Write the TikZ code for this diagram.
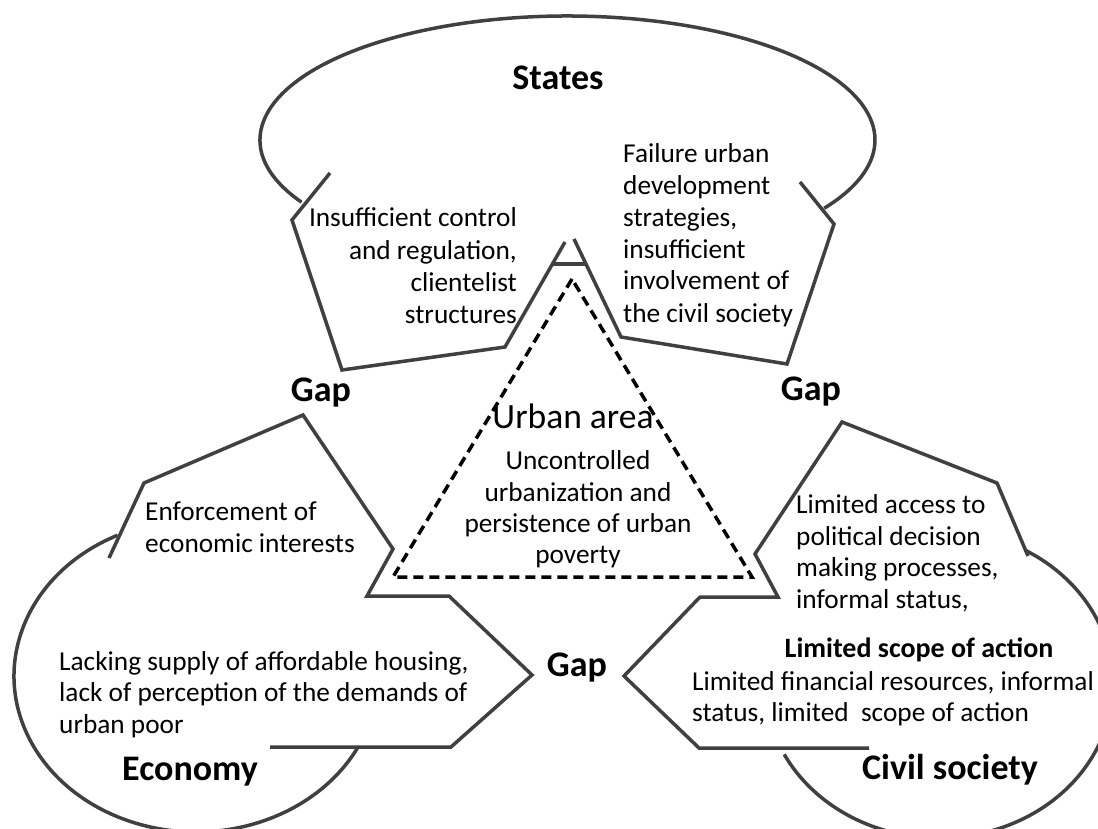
\documentclass[tikz,border=0pt]{standalone}
\usepackage{fontspec}
\setmainfont{Carlito}
\definecolor{linegray}{HTML}{404040}
\begin{document}
\begin{tikzpicture}[x=1pt,y=-1pt,
  outline/.style={draw=linegray, line width=3.5pt, line join=miter, line cap=butt},
  tri/.style={draw=black, line width=3.5pt, dash pattern=on 10pt off 6pt},
  body/.style={font=\fontsize{27.3}{33}\selectfont, inner sep=0pt},
  title/.style={font=\fontsize{36}{42}\selectfont\bfseries, inner sep=0pt},
  subtitle/.style={font=\fontsize{28}{33}\selectfont\bfseries, inner sep=0pt},
  big/.style={font=\fontsize{35.5}{42}\selectfont, inner sep=0pt}]
\useasboundingbox (0,0) rectangle (1098,829);
\clip (0,0) rectangle (1098,829);
\fill[white] (0,0) rectangle (1098,829);

% ---- States shape
\draw[outline] (330,173) -- (292,220) -- (342,370) -- (505,347) -- (565,242);
\draw[outline] (552,264) -- (585,264);
\draw[outline] (574,239) -- (621,337) -- (787,364) -- (834,224) -- (800,182);
\draw[outline] (567.5,140) ++(210.1:307.5pt and 124pt)
  arc[start angle=210.1, end angle=-33.4, x radius=307.5pt, y radius=124pt];

% ---- Economy shape
\draw[outline] (109,558) -- (144,483) -- (303,415) -- (393,549) -- (367,596)
  -- (449,596) -- (532,675) -- (451,747) -- (270,747);
\draw[outline] (196,676) ++(115.5:182pt and 156pt)
  arc[start angle=115.5, end angle=332.9, x radius=182pt, y radius=156pt];

% ---- Civil society shape
\draw[outline] (1028,556) -- (997,483) -- (842,422) -- (755,554) -- (778,597)
  -- (700,597) -- (624,676) -- (699,748) -- (869,748);
\draw[outline] (939,684) ++(60.4:174pt and 154pt)
  arc[start angle=60.4, end angle=-152.8, x radius=174pt, y radius=154pt];

% ---- Urban area triangle
\draw[tri] (572,279) -- (393,577) -- (752,577) -- cycle;

% ---- Titles
\node[title, anchor=base] (states) at (558,90) {States};
\node[title, anchor=base] (economy) at (190,780) {Economy};
\node[title, anchor=base] (civil) at (950,779) {Civil society};
\node[title, anchor=base] (gapl) at (321,401) {Gap};
\node[title, anchor=base] (gapr) at (811,400) {Gap};
\node[title, anchor=base] (gapb) at (577,676) {Gap};

% ---- States texts
\node[body, anchor=base east] (sl1) at (517,227) {Insufficient control};
\node[body, anchor=base east] (sl2) at (517,259) {and regulation,};
\node[body, anchor=base east] (sl3) at (517,291) {clientelist};
\node[body, anchor=base east] (sl4) at (517,323) {structures};
\node[body, anchor=base west] (sr1) at (623,163) {Failure urban};
\node[body, anchor=base west] (sr2) at (623,195) {development};
\node[body, anchor=base west] (sr3) at (623,227) {strategies,};
\node[body, anchor=base west] (sr4) at (623,258.5) {insufficient};
\node[body, anchor=base west] (sr5) at (623,290) {involvement of};
\node[body, anchor=base west] (sr6) at (623,322) {the civil society};

% ---- Urban area texts
\node[big, anchor=base] (urban) at (573,428) {Urban area};
\node[body, anchor=base] (u1) at (578,469.5) {Uncontrolled};
\node[body, anchor=base] (u2) at (578,501) {urbanization and};
\node[body, anchor=base] (u3) at (578,532) {persistence of urban};
\node[body, anchor=base] (u4) at (578,563.5) {poverty};

% ---- Economy texts
\node[body, anchor=base west] (e1) at (145,520) {Enforcement of};
\node[body, anchor=base west] (e2) at (145,552) {economic interests};
\node[body, anchor=base west] (e3) at (59,670) {Lacking supply of affordable housing,};
\node[body, anchor=base west] (e4) at (59,701.5) {lack of perception of the demands of};
\node[body, anchor=base west] (e5) at (59,733) {urban poor};

% ---- Civil society texts
\node[body, anchor=base west] (c1) at (796,513.5) {Limited access to};
\node[body, anchor=base west] (c2) at (796,545) {political decision};
\node[body, anchor=base west] (c3) at (796,576.5) {making processes,};
\node[body, anchor=base west] (c4) at (796,608) {informal status,};
\node[subtitle, anchor=base] (c5) at (919,657) {Limited scope of action};
\node[body, anchor=base west] (c6) at (692,690) {Limited financial resources, informal};
\node[body, anchor=base west] (c7) at (692,721.5) {status, limited\ \ scope of action};
\end{tikzpicture}
\end{document}
